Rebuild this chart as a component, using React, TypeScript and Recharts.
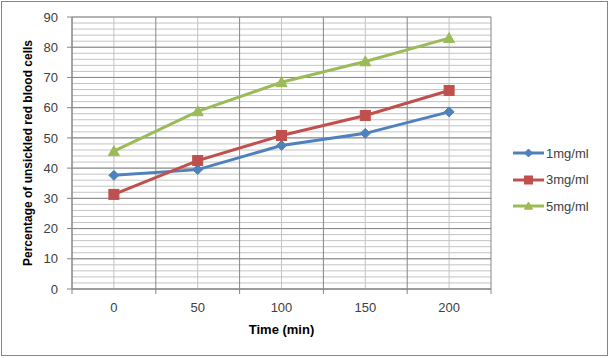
import React from 'react';
import { LineChart, Line, XAxis, YAxis, CartesianGrid, Legend } from 'recharts';

const times = [0, 50, 100, 150, 200];
const series1mg = [37.6, 39.5, 47.5, 51.5, 58.6];
const series3mg = [31.3, 42.5, 50.8, 57.4, 65.7];
const series5mg = [45.6, 58.8, 68.4, 75.3, 83.0];
const seriesNames = ['1mg/ml', '3mg/ml', '5mg/ml'];
const yTicks = [0, 10, 20, 30, 40, 50, 60, 70, 80, 90];
const yMinorTicks = Array.from({ length: 46 }, (_, i) => i * 2);
const xBoundaries = [-25, 25, 75, 125, 175, 225];
const xAllTicks = [-25, 0, 25, 50, 75, 100, 125, 150, 175, 200, 225];

const data = times.map((t, i) => ({
  time: t,
  s1: series1mg[i],
  s3: series3mg[i],
  s5: series5mg[i],
}));

const COLORS = ['#4F81BD', '#C0504D', '#9BBB59'];
const MAJOR = '#868686';
const MINOR = '#C4C4C4';
const FONT = '"Liberation Sans", Arial, sans-serif';

const Diamond = ({ cx, cy, color, s = 5 }: any) => (
  <polygon points={`${cx},${cy - s} ${cx + s},${cy} ${cx},${cy + s} ${cx - s},${cy}`} fill={color} stroke={color} />
);
const Square = ({ cx, cy, color, s = 5 }: any) => (
  <rect x={cx - s} y={cy - s} width={2 * s} height={2 * s} fill={color} stroke={color} />
);
const Triangle = ({ cx, cy, color, s = 5.5 }: any) => (
  <polygon points={`${cx},${cy - s} ${cx + s},${cy + s * 0.8} ${cx - s},${cy + s * 0.8}`} fill={color} stroke={color} />
);
const markers = [Diamond, Square, Triangle];

const makeDot = (idx: number) => (props: any) => {
  const M = markers[idx];
  if (props.cx == null || props.cy == null) return <g key={props.index} />;
  return <M key={props.index} cx={props.cx} cy={props.cy} color={COLORS[idx]} />;
};

const XTick = (props: any) => {
  const { x, y, payload } = props;
  if (xBoundaries.includes(payload.value)) {
    return <line x1={x} x2={x} y1={y - 7} y2={y - 2} stroke={MAJOR} />;
  }
  return (
    <text x={x} y={y} dy={16} textAnchor="middle" fill="#404040" fontSize={13} fontFamily={FONT}>
      {payload.value}
    </text>
  );
};

const LegendContent = () => (
  <div style={{ fontFamily: FONT, fontSize: 13, color: '#404040' }}>
    {seriesNames.map((name, i) => {
      const M = markers[i];
      return (
        <div key={name} style={{ display: 'flex', alignItems: 'center', height: 26.5 }}>
          <svg width={33} height={14} style={{ display: 'block' }}>
            <line x1={0} x2={31} y1={7} y2={7} stroke={COLORS[i]} strokeWidth={3} />
            <M cx={15.5} cy={7} color={COLORS[i]} s={4} />
          </svg>
          <span style={{ marginLeft: 0 }}>{name}</span>
        </div>
      );
    })}
  </div>
);

export default function App() {
  return (
    <div style={{ position: 'absolute', left: 0, top: 0, width: 610, height: 358, background: '#fff' }}>
      <LineChart
        width={610}
        height={358}
        data={data}
        margin={{ top: 17, right: 119, left: 22, bottom: 29 }}
      >
        <CartesianGrid
          stroke={MINOR}
          fill="none"
          horizontalValues={yMinorTicks}
          verticalValues={times}
        />
        <CartesianGrid
          stroke={MAJOR}
          fill="none"
          horizontalValues={yTicks}
          verticalValues={xBoundaries}
        />
        <XAxis
          dataKey="time"
          type="number"
          domain={[-25, 225]}
          ticks={xAllTicks}
          interval={0}
          height={40}
          stroke={MAJOR}
          tickLine={false}
          tickSize={5}
          tickMargin={2}
          tick={<XTick />}
          label={{
            value: 'Time (min)',
            position: 'insideBottom',
            offset: 0,
            dy: 5,
            fill: '#000',
            fontSize: 13,
            fontWeight: 'bold',
            fontFamily: FONT,
          }}
        />
        <YAxis
          domain={[0, 90]}
          ticks={yTicks}
          interval={0}
          width={50}
          stroke={MAJOR}
          tickSize={5}
          tickMargin={9}
          tick={{ fill: '#404040', fontSize: 13, fontFamily: FONT }}
          label={{
            value: 'Percentage of unsickled red blood cells',
            angle: -90,
            position: 'insideLeft',
            offset: 0,
            dx: 6,
            dy: 0,
            style: { textAnchor: 'middle' },
            fill: '#000',
            fontSize: 12,
            fontWeight: 'bold',
            fontFamily: FONT,
          }}
        />
        <Legend
          layout="vertical"
          align="center"
          verticalAlign="middle"
          content={<LegendContent />}
          wrapperStyle={{ position: 'absolute', left: 513, top: 140, width: 95 }}
        />
        {['s1', 's3', 's5'].map((k, i) => (
          <Line
            key={k}
            dataKey={k}
            name={seriesNames[i]}
            stroke={COLORS[i]}
            strokeWidth={3}
            dot={makeDot(i)}
            activeDot={false}
            isAnimationActive={false}
          />
        ))}
      </LineChart>
      <div
        style={{
          position: 'absolute',
          left: 1,
          top: 1,
          width: 607,
          height: 355,
          boxSizing: 'border-box',
          border: '1px solid #868686',
          pointerEvents: 'none',
        }}
      />
    </div>
  );
}
